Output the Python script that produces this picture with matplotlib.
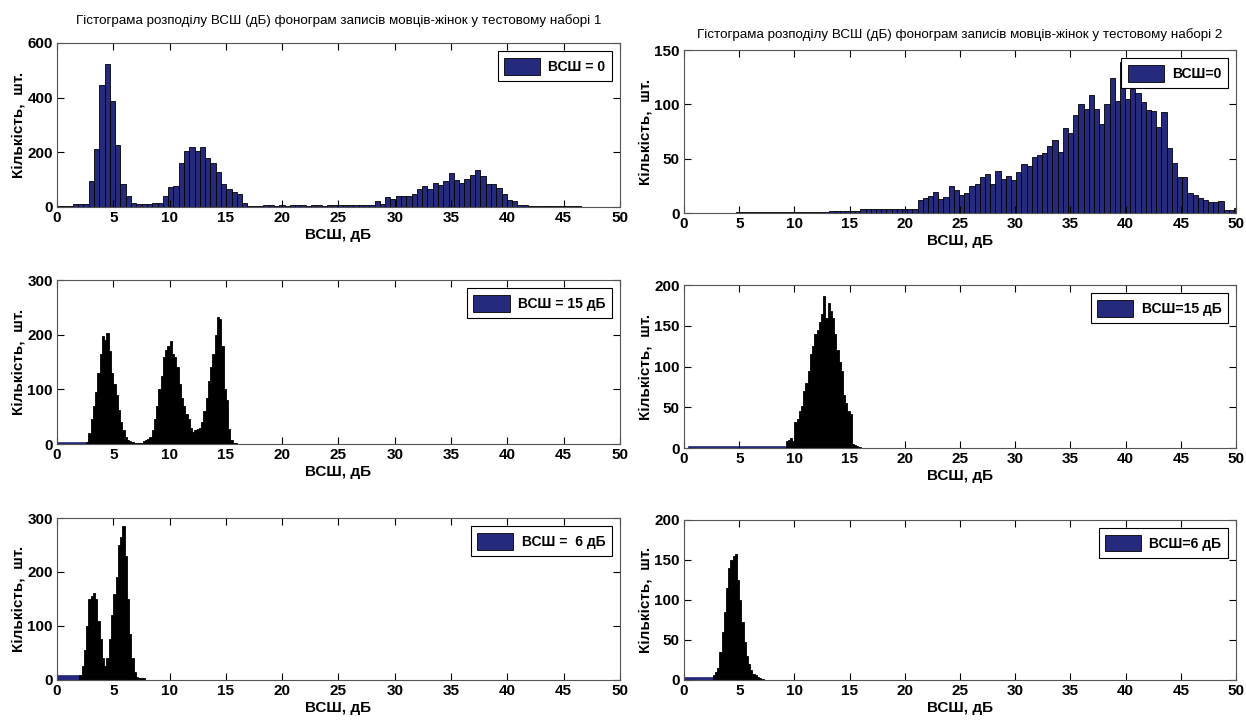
import numpy as np
import matplotlib
matplotlib.use('Agg')
import matplotlib.pyplot as plt

plt.rcParams['font.family'] = ['Liberation Sans Narrow', 'Liberation Sans', 'DejaVu Sans']

# набір 1, ВСШ = 0 (біни 0.47 дБ від 0)
tl_counts = [5, 5, 5, 10, 10, 12, 96, 211, 448, 524, 389, 225, 85, 42,
             15, 12, 12, 12, 14, 15, 40, 74, 78, 162, 206, 218, 205, 220,
             178, 162, 129, 83, 67, 55, 49, 16, 4, 4, 4,
             6, 6, 5, 6, 4, 6, 6, 6, 5, 6, 6, 5, 6, 6, 6, 6, 7, 7, 8, 8, 8,
             21, 11, 36, 30, 41, 39, 39, 46, 67, 75, 66, 86, 79, 96, 123,
             100, 86, 104, 118, 136, 112, 85, 85, 69, 49, 27, 23, 8, 6, 5,
             5, 5, 5, 2, 2, 2, 2, 2, 2, 0]

# набір 2, ВСШ = 0
tr_counts = ([0] * 10 + [1] + [1] * 17 + [2] * 6 + [4] * 11 +
             [12, 14, 16, 19, 13, 15, 25, 21, 17, 18, 25, 27, 33, 36, 27,
              39, 31, 34, 30, 38, 45, 43, 52, 53, 55, 62, 67, 56, 78, 74,
              90, 100, 96, 109, 96, 82, 100, 124, 103, 139,
              105, 114, 110, 102, 95, 94, 79, 93, 60, 46, 33, 33, 18, 17,
              14, 12, 10, 10, 11, 3, 3, 5])

# ВСШ = 15 дБ (біни 0.2 дБ)
ml_start = 2.6
ml_counts = [3, 20, 45, 70, 95, 130, 165, 198, 190, 203, 170, 130, 110, 90,
             62, 40, 25, 12, 8, 6, 3, 2, 1, 1, 1,
             5, 8, 10, 12, 25, 45, 70, 100, 125, 160, 172, 180, 188, 165,
             160, 140, 110, 85, 70, 55, 45, 30, 22, 25, 28, 30, 40, 60, 85,
             115, 140, 165, 200, 232, 228, 180, 100, 80, 28, 8, 2, 1]
ml_bg = (0.0, 2.6, 3)

mr_start = 9.2
mr_counts = [8, 10, 12, 8, 32, 35, 45, 52, 70, 80, 95, 115, 125, 140, 145,
             155, 165, 186, 160, 178, 168, 160, 140, 120, 105, 95, 65, 55,
             45, 42, 5, 4, 3, 1]
mr_bg = (0.4, 9.2, 2)

# ВСШ = 6 дБ
bl_start = 2.0
bl_counts = [10, 25, 55, 100, 150, 155, 162, 150, 110, 75, 40, 25, 40, 75,
             120, 160, 190, 250, 265, 285, 230, 150, 85, 40, 15, 6, 3, 3, 3]
bl_bg = (0.0, 2.0, 10)

br_start = 2.6
br_counts = [6, 10, 15, 35, 60, 85, 115, 140, 150, 155, 158, 125, 100, 72,
             48, 30, 20, 12, 8, 6, 4, 3, 1]
br_bg = (0.0, 2.6, 4)

navy = '#262a7c'
title1 = 'Гістограма розподілу ВСШ (дБ) фонограм записів мовців-жінок у тестовому наборі 1'
title2 = 'Гістограма розподілу ВСШ (дБ) фонограм записів мовців-жінок у тестовому наборі 2'
ylabel = 'Кількість,  шт.'
xlabel = 'ВСШ, дБ'

fig = plt.figure(figsize=(12.46, 7.26), dpi=100)

positions = {
    'tl': [0.0457, 0.7149, 0.4519, 0.2259],
    'tr': [0.5490, 0.7066, 0.4430, 0.2245],
    'ml': [0.0457, 0.3884, 0.4519, 0.2259],
    'mr': [0.5490, 0.3829, 0.4430, 0.2245],
    'bl': [0.0457, 0.0634, 0.4519, 0.2231],
    'br': [0.5490, 0.0634, 0.4430, 0.2204],
}


def style_axes(ax, ymax, ystep, label):
    ax.set_xlim(0, 50)
    ax.set_ylim(0, ymax)
    ax.set_xticks(np.arange(0, 51, 5))
    ax.set_yticks(np.arange(0, ymax + 1, ystep))
    ax.tick_params(direction='in', top=True, right=True, length=5,
                   labelsize=11, pad=3)
    for t in ax.get_xticklabels() + ax.get_yticklabels():
        t.set_fontweight('bold')
    for s in ax.spines.values():
        s.set_color('#555555')
        s.set_linewidth(0.8)
    ax.set_ylabel(ylabel, fontsize=11, fontweight='bold', labelpad=1)
    ax.set_xlabel(xlabel, fontsize=11, fontweight='bold', labelpad=2)
    leg = ax.legend([plt.Rectangle((0, 0), 1, 1, fc=navy, ec='black', lw=0.6)],
                    [label], loc='upper right', fancybox=False,
                    framealpha=1, handlelength=2.6, handleheight=1.5,
                    handletextpad=0.6, borderpad=0.45, borderaxespad=0.6,
                    prop={'size': 10, 'weight': 'bold'})
    leg.get_frame().set_edgecolor('black')
    leg.get_frame().set_linewidth(0.8)


def draw_coarse(ax, counts, width=0.47):
    left = width * np.arange(len(counts))
    ax.bar(left, counts, width=width, align='edge', color=navy,
           edgecolor='black', linewidth=0.6)


def draw_dense(ax, start, counts, bg, width=0.2):
    ax.bar(bg[0], bg[2], width=bg[1] - bg[0], align='edge', color=navy,
           edgecolor=navy, linewidth=0.5)
    left = start + width * np.arange(len(counts))
    ax.bar(left, counts, width=width, align='edge', color='black',
           edgecolor='black', linewidth=0.6)


ax = fig.add_axes(positions['tl'])
draw_coarse(ax, tl_counts)
style_axes(ax, 600, 200, 'ВСШ = 0')
ax.set_title(title1, fontsize=9.6, pad=14)

ax = fig.add_axes(positions['tr'])
draw_coarse(ax, tr_counts)
style_axes(ax, 150, 50, 'ВСШ=0')
ax.set_title(title2, fontsize=9.6, pad=9)

ax = fig.add_axes(positions['ml'])
draw_dense(ax, ml_start, ml_counts, ml_bg)
style_axes(ax, 300, 100, 'ВСШ = 15 дБ')

ax = fig.add_axes(positions['mr'])
draw_dense(ax, mr_start, mr_counts, mr_bg)
style_axes(ax, 200, 50, 'ВСШ=15 дБ')

ax = fig.add_axes(positions['bl'])
draw_dense(ax, bl_start, bl_counts, bl_bg)
style_axes(ax, 300, 100, 'ВСШ =  6 дБ')

ax = fig.add_axes(positions['br'])
draw_dense(ax, br_start, br_counts, br_bg)
style_axes(ax, 200, 50, 'ВСШ=6 дБ')

fig.savefig('out.png', dpi=100)
